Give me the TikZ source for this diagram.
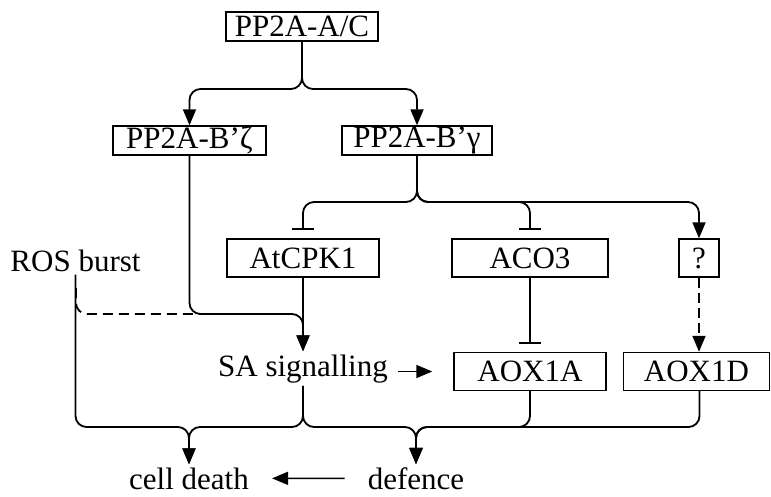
\documentclass[tikz,border=0pt]{standalone}
\usepackage{fontspec}
\setmainfont{Liberation Serif}
\usetikzlibrary{arrows.meta}
\begin{document}
\begin{tikzpicture}[x=1pt,y=-1pt,
        font=\fontsize{31}{36}\selectfont,
        arr/.style={-{Triangle[length=16pt,width=13pt]}, line width=1.8pt, rounded corners=11pt},
        inh/.style={-{Bar[width=22pt,line width=1.8pt]}, line width=1.8pt, rounded corners=11pt, shorten >=8pt},
        lbl/.style={anchor=base, inner sep=3pt}]
            \useasboundingbox (0,0) rectangle (771,497);
            \begin{scope}[every node/.style={draw, line width=1.4pt, inner sep=0pt, minimum height=38pt}]

                \node[minimum width=152pt, minimum height=29pt] (ac) at (302,26.5) {PP2A-A/C};
                \node[minimum width=153pt, minimum height=29pt] (bz) at (189.5,140.5) {PP2A-B’ζ};
                \node[minimum width=150pt, minimum height=29pt] (bg) at (417,140.5) {PP2A-B’γ};

                \node[minimum width=152pt] (cpk) at (303,258) {AtCPK1};
                \node[minimum width=156pt] (aco) at (530,258) {ACO3};
                \node[minimum width=40pt] (q) at (699,258) {?};

                \node[minimum width=152pt] (aoxa) at (530,371.5) {AOX1A};
                \node[minimum width=146pt] (aoxd) at (696.5,371.5) {AOX1D};
            \end{scope}

            \node[lbl] (ros) at (75.5,271) {ROS burst};
            \node[lbl] (sa) at (303,376) {SA signalling};
            \node[lbl] (cd) at (189,489) {cell death};
            \node[lbl] (df) at (416,489) {defence};

            \coordinate (aj) at (302,89);
            \coordinate (gj) at (417,202);
            \coordinate (sj) at (303,314);
            \coordinate (rd) at (76,288);
            \coordinate (zj) at (204,314);
            \coordinate (cdj) at (189,427);
            \coordinate (dfj) at (416,427);

            \draw[arr] (ac.south) -- (aj) -| (bz.north);
            \draw[arr] (ac.south) -- (aj) -| (bg.north);

            \draw[inh] (bg.south) -- (gj) -| (cpk.north);
            \draw[inh] (bg.south) -- (gj) -| (aco.north);
            \draw[arr] (bg.south) -- (gj) -| (q.north);

            \draw[arr] (bz.south) |- (sj) -- (sa.north);
            \draw[arr] (cpk.south) -- (sa.north);
            \draw[line width=1.8pt, rounded corners=11pt, dash pattern=on 10pt off 6pt] (rd) |- (zj);

            \draw[inh] (aco.south) -- (aoxa.north);
            \draw[arr, dash pattern=on 10pt off 5pt] (q.south) -- (q.south |- aoxd.north);

            \draw[arr, line width=1.5pt, shorten <=7pt, shorten >=21pt] (sa.east |- aoxa) -- (aoxa.west);

            \draw[arr] (ros.south) |- (cdj) -- (cd.north);
            \draw[arr] (sa.south) |- (cdj) -- (cd.north);
            \draw[arr] (sa.south) |- (dfj) -- (df.north);
            \draw[arr] (aoxa.south) |- (dfj) -- (df.north);
            \draw[arr] ([xshift=3pt]aoxd.south) |- (dfj) -- (df.north);

            \draw[arr, line width=1.5pt, shorten <=20pt, shorten >=20pt] (df.west) -- (cd.east);
        \end{tikzpicture}
\end{document}
